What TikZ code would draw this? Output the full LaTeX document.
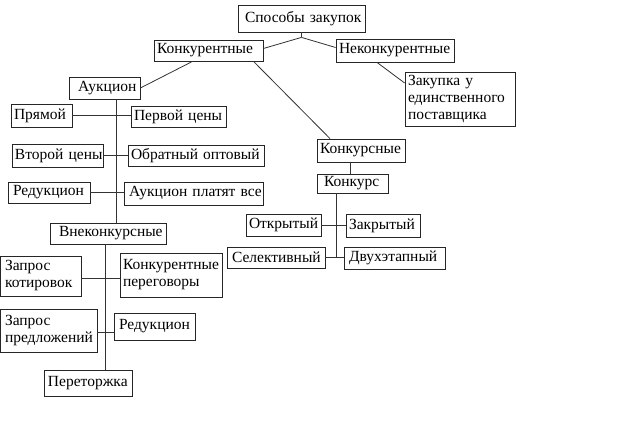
\documentclass[tikz,border=0pt]{standalone}
\usepackage{fontspec}
\setmainfont{Liberation Serif}
\begin{document}
\begin{tikzpicture}[x=1pt,y=1pt,
  bx/.style={draw=black!85, line width=0.8pt, inner xsep=3pt, inner ysep=0pt, align=left,
    font=\rmfamily\fontsize{15.5}{17}\selectfont, fill=white},
  ln/.style={draw=black!80, line width=0.8pt}]
\useasboundingbox (0,0) rectangle (641,-446);
\newcommand\bxn[6]{%
 \pgfmathsetmacro\bxw{#4-#2}\pgfmathsetmacro\bxh{#5-#3}%
 \pgfmathsetmacro\bxtw{#4-#2-6}%
 \node[bx, minimum width=\bxw pt, minimum height=\bxh pt, text width=\bxtw pt] (#1) at ({(#2+#4)/2},{-(#3+#5)/2}) {#6};}
% boxes
\bxn{sp}{238}{5}{365}{32}{\mbox{\hspace*{4pt}Способы закупок}}
\bxn{kon}{154}{40}{263}{61}{\mbox{Конкурентные}}
\bxn{nek}{336}{39}{454}{62}{\mbox{Неконкурентные}}
\bxn{zak}{405}{72}{515}{126}{\mbox{Закупка у}\\\mbox{единственного}\\\mbox{поставщика}}
\bxn{auk}{69}{77}{140}{99}{\mbox{\hspace*{6pt}Аукцион}}
\bxn{pr}{11}{104}{72}{127}{\mbox{Прямой}}
\bxn{pc}{131}{106}{226}{127}{\mbox{Первой цены}}
\bxn{vc}{12}{144}{103}{167}{\mbox{Второй цены}}
\bxn{oo}{128}{145}{264}{166}{\mbox{Обратный оптовый}}
\bxn{red}{8}{182}{90}{203}{\mbox{\hspace*{2pt}Редукцион}}
\bxn{apv}{124}{182}{263}{205}{\mbox{\hspace*{2pt}Аукцион платят все}}
\bxn{vne}{50}{223}{166}{244}{\mbox{\hspace*{6pt}Внеконкурсные}}
\bxn{zk}{0}{256}{81}{296}{\mbox{\hspace*{2pt}Запрос}\\\mbox{\hspace*{2pt}котировок}}
\bxn{kp}{120}{253}{222}{297}{\mbox{Конкурентные}\\\mbox{переговоры}}
\bxn{zp}{0}{309}{97}{352}{\mbox{\hspace*{2pt}Запрос}\\\mbox{\hspace*{2pt}предложений}}
\bxn{red2}{114}{313}{195}{340}{\mbox{\hspace*{2pt}Редукцион}}
\bxn{per}{44}{370}{132}{396}{\mbox{\hspace*{1pt}Переторжка}}
\bxn{ks}{317}{139}{405}{162}{\mbox{Конкурсные}}
\bxn{konk}{317}{174}{388}{193}{\mbox{\hspace*{4pt}Конкурс}}
\bxn{otk}{246}{214}{321}{236}{\mbox{Открытый}}
\bxn{zakr}{346}{214}{420}{237}{\mbox{Закрытый}}
\bxn{sel}{227}{247}{325}{268}{\mbox{\hspace*{2pt}Селективный}}
\bxn{dvu}{344}{247}{445}{269}{\mbox{\hspace*{2pt}Двухэтапный}}
% connectors
\draw[ln] (sp.south) -- ++(0,-5) coordinate (br);
\draw[ln] (br) -- ([yshift=2pt]kon.east);
\draw[ln] (br) -- ([yshift=3pt]nek.west);
\draw[ln] ([xshift=-16pt]kon.south) -- (auk.east);
\draw[ln] ([xshift=45pt]kon.south) -- ([xshift=-31pt]ks.north);
\draw[ln] ([xshift=-18pt]nek.south) -- ([yshift=16pt]zak.west);
\draw[ln] ([xshift=11.5pt]auk.south) -- ([xshift=11.5pt]auk.south |- vne.north);
\draw[ln] (pr.east) -- (pr.east -| pc.west);
\draw[ln] (vc.east) -- (vc.east -| oo.west);
\draw[ln] (red.east) -- (red.east -| apv.west);
\draw[ln] ([xshift=-3pt]vne.south) -- ([xshift=-3pt]vne.south |- per.north);
\draw[ln] ([yshift=-2pt]zk.east) -- ([yshift=-2pt]zk.east -| kp.west);
\draw[ln] ([yshift=-2pt]zp.east) -- ([yshift=-2pt]zp.east -| red2.west);
\draw[ln] ([xshift=-2.5pt]konk.north) -- ([xshift=-2.5pt]konk.north |- ks.south);
\draw[ln] ([xshift=-16.5pt]konk.south) -- ([xshift=-16.5pt]konk.south |- sel.east);
\draw[ln] (otk.east) -- (otk.east -| zakr.west);
\draw[ln] (sel.east) -- (sel.east -| dvu.west);
\end{tikzpicture}
\end{document}
